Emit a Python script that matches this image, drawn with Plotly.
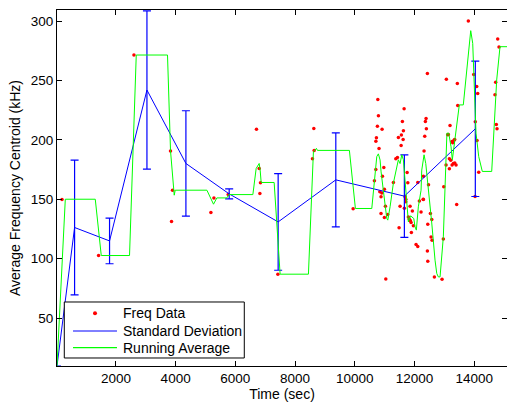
import plotly.graph_objects as go

# ---- Freq Data (red dots) ----
freq_t = [194, 1419, 2604, 3829, 3862, 3896, 5181, 5282, 5760, 6707, 6798, 6821, 6841, 7424,
          8582, 8628, 8639, 9944,
          10657, 10704, 10706, 10724, 10757, 10771, 10791, 10811, 10838, 10878, 10878, 10905,
          10914, 10925, 10972, 10991, 10991, 11025, 11038, 11102,
          11293, 11373, 11427, 11460, 11483, 11516, 11551, 11560, 11594, 11618, 11628, 11651,
          11660, 11683, 11707, 11707, 11752, 11775, 11794, 11828, 11851, 11861, 11885, 11895,
          11928, 11962,
          12052, 12108, 12109, 12162, 12219, 12291, 12296, 12296, 12319, 12342, 12364, 12387,
          12397, 12431, 12431, 12444, 12444, 12468, 12531, 12555, 12578, 12588, 12665, 12922,
          12965, 12979,
          13056, 13066, 13112, 13133, 13167, 13167, 13189, 13214, 13256, 13257, 13279, 13301,
          13323, 13346, 13348, 13391, 13412, 13434, 13447, 13802, 13982, 14027, 14035, 14083,
          14093, 14116, 14150, 14694, 14718, 14740, 14763, 14786, 14829]
freq_v = [149.8, 102.6, 271.4, 190.7, 131.2, 157.6, 138.8, 151.1, 154.0, 209.0, 175.9, 154.8, 163.8, 86.9,
          184.0, 209.6, 191.1, 141.9,
          165.5, 175.1, 198.9, 201.7, 211.5, 234.0, 220.2, 192.8, 156.2, 152.0, 138.0, 155.3,
          209.0, 169.4, 176.7, 134.6, 158.5, 144.1, 82.9, 137.1,
          164.1, 184.0, 185.2, 202.0, 125.9, 144.1, 195.3, 204.0, 215.5, 200.3, 207.6, 226.1,
          142.5, 152.0, 150.0, 147.8, 172.5, 163.8, 135.1, 133.2, 144.1, 131.8, 130.4, 122.0,
          140.0, 127.6,
          111.9, 110.2, 164.1, 148.6, 139.3, 150.0, 169.4, 149.8, 190.5, 203.1, 215.5, 218.0,
          209.3, 255.9, 106.5, 129.0, 97.8, 162.1, 138.0, 118.3, 133.0, 115.5, 84.6, 82.6,
          116.6, 160.4,
          178.9, 250.9, 204.2, 204.5, 184.0, 175.6, 212.1, 182.9, 198.6, 178.9, 197.5, 180.1,
          199.7, 200.3, 180.6, 178.9, 145.6, 247.5, 229.0, 300.0, 255.1, 152.3, 215.2, 245.0,
          199.5, 239.1, 172.8, 237.9, 248.4, 213.0, 209.3, 284.8, 278.1]

# ---- Standard Deviation (blue, with error bars) ----
sd_t = [27, 616, 1787, 3039, 4344, 5793, 7433, 9364, 11660, 14036]
sd_mean = [9.6, 126.2, 114.9, 241.9, 180.1, 154.5, 130.9, 166.3, 152.6, 209.3]
sd_err = [0.0, 56.8, 19.2, 66.6, 44.4, 4.2, 40.7, 39.6, 34.8, 57.0]

# ---- Running Average (green) ----
avg_t = [27, 305, 1309, 1509, 2456, 2681, 3728, 3829, 3953, 3986, 5047, 5268, 5381, 5716,
         5783, 6586, 6697, 6797, 6831, 6864, 7299, 7499, 8447, 8614, 8715, 8748, 9819, 10020,
         10569, 10656, 10736, 10790, 10847, 10880, 10957, 11071, 11104, 11181, 11292, 11372,
         11459, 11516, 11573, 11627, 11660, 11740, 11794, 11868, 11975, 12018, 12061, 12128,
         12219, 12242, 12319, 12376, 12463, 12577, 12687, 12744, 12798, 12855, 12965, 13028,
         13085, 13146, 13223, 13266, 13323, 13413, 13500, 13634, 13882, 13949, 14060, 14150,
         14270, 14585, 14752, 14863, 15097]
avg_v = [9.6, 150.0, 150.0, 102.6, 102.6, 271.4, 271.4, 190.7, 153.4, 157.6, 157.6, 145.8, 151.1, 151.1,
         153.9, 153.9, 175.9, 180.1, 174.5, 164.1, 164.1, 86.9, 86.9, 189.9, 192.8, 191.1, 191.1, 142.2,
         142.2, 166.0, 185.9, 188.2, 183.0, 173.0, 154.8, 133.8, 132.4, 143.6, 163.6, 172.0,
         183.2, 180.0, 187.4, 183.2, 173.3, 149.6, 130.9, 136.0, 133.8, 126.7, 124.0, 143.6,
         157.6, 174.5, 187.4, 180.1, 160.4, 130.0, 98.7, 87.6, 84.6, 84.6, 118.3, 160.0,
         205.6, 205.6, 194.1, 183.2, 194.0, 210.0, 229.4, 229.4, 291.9, 281.2, 205.6, 185.9,
         173.4, 173.4, 250.4, 278.4, 278.4]

x_ticks = [2000, 4000, 6000, 8000, 10000, 12000, 14000]
y_ticks = [50, 100, 150, 200, 250, 300]
legend_labels = ["Freq Data", "Standard Deviation", "Running Average"]

FONT = "Liberation Sans, Arial, Helvetica, sans-serif"
RED, BLUE, GREEN = "#ff0000", "#0000ff", "#00ff00"

fig = go.Figure()
fig.add_trace(go.Scatter(
    x=freq_t, y=freq_v, mode="markers", name=legend_labels[0],
    marker=dict(color=RED, size=3.5, line=dict(width=0)),
))
fig.add_trace(go.Scatter(
    x=sd_t, y=sd_mean, mode="lines", name=legend_labels[1],
    line=dict(color=BLUE, width=1),
    error_y=dict(type="data", array=sd_err, visible=True, color=BLUE,
                 thickness=1.2, width=4),
))
fig.add_trace(go.Scatter(
    x=avg_t, y=avg_v, mode="lines", name=legend_labels[2],
    line=dict(color=GREEN, width=1),
))

# ---- legend box (MATLAB style, compact rows) ----
lx0, lx1, ly0, ly1 = 0.0162, 0.4162, 0.0225, 0.1798
row_y = [0.148, 0.0983, 0.0514]
sx0, sx1, tx = 0.0356, 0.1333, 0.1422
shapes = [dict(type="rect", xref="paper", yref="paper", x0=lx0, x1=lx1, y0=ly0, y1=ly1,
               line=dict(color="black", width=1), fillcolor="white", layer="above")]
cx, r_x, r_y = (sx0 + sx1) / 2, 2.0 / 450, 2.0 / 356
shapes.append(dict(type="circle", xref="paper", yref="paper",
                   x0=cx - r_x, x1=cx + r_x, y0=row_y[0] - r_y, y1=row_y[0] + r_y,
                   line=dict(width=0), fillcolor=RED, layer="above"))
for yy, col in zip(row_y[1:], [BLUE, GREEN]):
    shapes.append(dict(type="line", xref="paper", yref="paper", x0=sx0, x1=sx1, y0=yy, y1=yy,
                       line=dict(color=col, width=1.3 if col == GREEN else 1), layer="above"))
annotations = [dict(xref="paper", yref="paper", x=tx, y=yy, text=lab, showarrow=False,
                    xanchor="left", yanchor="middle",
                    font=dict(family=FONT, size=14, color="black"))
               for yy, lab in zip(row_y, legend_labels)]

axis_common = dict(
    showline=True, linecolor="black", linewidth=1, mirror="ticks",
    ticks="inside", ticklen=5, tickwidth=1, tickcolor="black",
    showgrid=False, zeroline=False,
    tickfont=dict(family=FONT, size=13.5, color="black"),
)

fig.update_layout(
    width=507, height=405,
    margin=dict(l=57, r=0, t=10, b=39, autoexpand=False),
    paper_bgcolor="white", plot_bgcolor="white",
    font=dict(family=FONT, size=13.5, color="black"),
    showlegend=False,
    shapes=shapes,
    annotations=annotations,
    xaxis=dict(
        range=[27, 15097], tickvals=x_ticks, ticktext=[str(v) for v in x_ticks],
        title=dict(text="Time (sec)", font=dict(family=FONT, size=14, color="black"), standoff=2),
        **axis_common,
    ),
    yaxis=dict(
        range=[9.6, 309.3], tickvals=y_ticks, ticktext=[str(v) for v in y_ticks],
        title=dict(text="Average Frequency Centroid (kHz)", font=dict(family=FONT, size=14, color="black"), standoff=6),
        **axis_common,
    ),
)

fig.write_html("out.html", config={"displayModeBar": False},
               post_script="document.body.style.margin='0px';document.body.style.overflow='hidden';")
